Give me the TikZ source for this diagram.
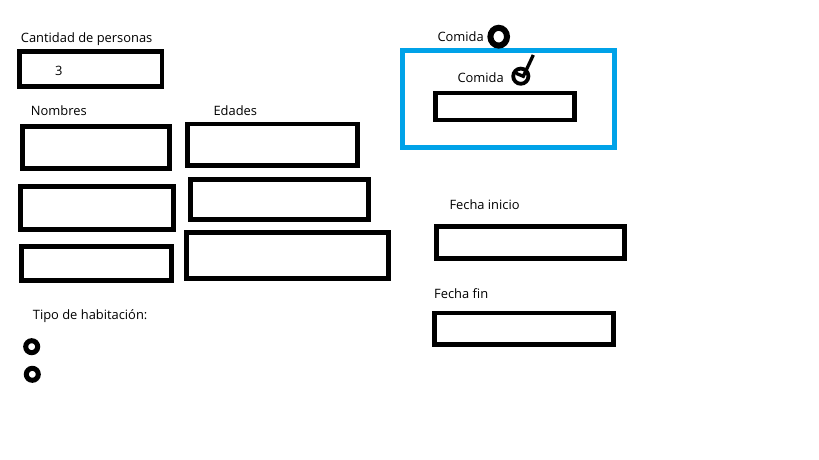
\documentclass[tikz,border=0pt]{standalone}
\usepackage{fontspec}
\setmainfont{Open Sans}
\usetikzlibrary{shapes.geometric}
\definecolor{paintblue}{HTML}{00A2E8}
\begin{document}
\begin{tikzpicture}[x=1pt,y=-1pt,
  box/.style={draw=black,line width=4.7pt,inner sep=0pt,outer sep=0pt},
  bluebox/.style={draw=paintblue,line width=5pt,inner sep=0pt,outer sep=0pt},
  lbl/.style={anchor=base west,inner sep=0pt,font=\fontsize{12.9}{15}\selectfont},
  ring/.style={draw=black,inner sep=0pt,outer sep=0pt}]
\useasboundingbox[fill=white] (0,0) rectangle (819,460);
% labels
\node[lbl] (lcant) at (20.7,42.7) {Cantidad de personas};
\node[lbl] (lnom) at (30.7,115.7) {Nombres};
\node[lbl] (leda) at (213.3,115.7) {Edades};
\node[lbl] (ltipo) at (32.7,319.3) {Tipo de habitación:};
\node[lbl] (lcom1) at (437.3,42) {Comida};
\node[lbl] (lcom2) at (457.3,82) {Comida};
\node[lbl] (lfi) at (449.3,209.3) {Fecha inicio};
\node[lbl] (lff) at (434,298.3) {Fecha fin};
% boxes
\node[box,minimum width=142.3pt,minimum height=35pt] (bcant) at (90.8,69.2) {};
\node[lbl] (v3) at (55,75) {3};
\node[box,minimum width=147pt,minimum height=42pt] (bn1) at (95.8,147.3) {};
\node[box,minimum width=170.4pt,minimum height=41.3pt] (be1) at (272.5,144.7) {};
\node[box,minimum width=153.4pt,minimum height=43.4pt] (bn2) at (97,208) {};
\node[box,minimum width=178pt,minimum height=40.4pt] (be2) at (279.7,199.5) {};
\node[box,minimum width=150.4pt,minimum height=34pt] (bn3) at (96.5,263.3) {};
\node[box,minimum width=202.4pt,minimum height=46pt] (be3) at (287.5,255.3) {};
\node[bluebox,minimum width=211.7pt,minimum height=96.7pt] (bblue) at (508.3,99.2) {};
\node[box,minimum width=138.6pt,minimum height=27pt] (bcom) at (505,106.5) {};
\node[box,minimum width=188pt,minimum height=32pt] (bfi) at (530.3,242.3) {};
\node[box,minimum width=178.6pt,minimum height=31.3pt] (bff) at (524,328.7) {};
% circles
\node[ring,ellipse,line width=6pt,minimum width=16.6pt,minimum height=17.8pt] (c1) at (498.7,36.7) {};
\node[ring,circle,line width=3.8pt,minimum size=15.2pt] (c2) at (520.8,76.2) {};
\node[ring,circle,line width=5pt,minimum size=12pt] (r1) at (31.7,346.7) {};
\node[ring,circle,line width=5pt,minimum size=12pt] (r2) at (32.3,374.3) {};
% check mark
\coordinate (k1) at (516,73.3);
\coordinate (k2) at (523.3,76.3);
\coordinate (k3) at (533.3,55);
\draw[line width=3.3pt] (k1) -- (k2) -- (k3);
\end{tikzpicture}
\end{document}
